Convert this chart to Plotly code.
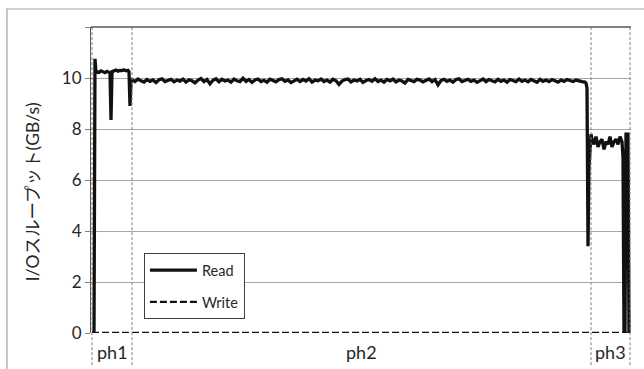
import plotly.graph_objects as go

# ---------------- data ----------------
# time axis in arbitrary sample units (one unit per sample step)
ph1_t = [0, 2, 3, 4, 5, 7, 9, 11, 13, 15, 17, 18, 19, 20, 22, 24, 26, 28, 30, 32, 34, 36, 37, 38, 39]
ph1_read = [0, 0, 10.75, 10.2, 10.25, 10.22, 10.28, 10.24, 10.21, 10.26, 10.23, 10.2, 8.35, 10.25,
            10.28, 10.31, 10.27, 10.30, 10.29, 10.32, 10.28, 10.30, 10.25, 8.9, 9.85]

ph2_t = list(range(40, 494, 3))
ph2_read = [
    9.93, 9.86, 9.96, 9.89, 9.84, 9.94, 9.87, 9.92, 9.82, 9.93, 9.97, 9.86, 9.90, 9.95, 9.85, 9.92,
    9.88, 9.96, 9.84, 9.93, 9.89, 9.81, 9.92, 9.98, 9.86, 9.94, 9.77, 9.91, 9.97, 9.85, 9.95, 9.88,
    9.92, 9.84, 9.96, 9.89, 9.86, 9.99, 9.87, 9.94, 9.83, 9.92, 9.96, 9.86, 9.91, 9.84, 9.95, 9.89,
    9.85, 9.94, 9.97, 9.87, 9.92, 9.82, 9.90, 9.95, 9.86, 9.94, 9.88, 9.97, 9.84, 9.92, 9.89, 9.96,
    9.86, 9.92, 9.84, 9.95, 9.89, 9.75, 9.88, 9.94, 9.96, 9.85, 9.92, 9.88, 9.95, 9.83, 9.90, 9.94,
    9.87, 9.97, 9.86, 9.92, 9.84, 9.94, 9.89, 9.96, 9.85, 9.92, 9.88, 9.80, 9.94, 9.89, 9.86, 9.95,
    9.92, 9.85, 9.90, 9.96, 9.86, 9.94, 9.73, 9.90, 9.95, 9.87, 9.92, 9.84, 9.94, 9.97, 9.86, 9.91,
    9.95, 9.87, 9.92, 9.83, 9.90, 9.96, 9.86, 9.94, 9.89, 9.85, 9.95, 9.87, 9.92, 9.84, 9.94, 9.89,
    9.86, 9.96, 9.87, 9.92, 9.85, 9.94, 9.89, 9.83, 9.95, 9.87, 9.92, 9.86, 9.94, 9.89, 9.84, 9.92,
    9.87, 9.94, 9.89, 9.86, 9.92, 9.88, 9.86, 9.84,
]

ph3_t = [494, 495, 496, 497, 499, 500, 502, 504, 506, 508, 510, 512, 514, 516, 518, 520, 522,
         524, 526, 528, 530, 531, 532, 533, 534, 536, 537, 538]
ph3_read = [9.8, 9.6, 3.4, 6.5, 7.8, 7.6, 7.4, 7.7, 7.3, 7.5, 7.6, 7.2, 7.5, 7.4, 7.7, 7.3, 7.5,
            7.6, 7.4, 7.7, 7.5, 6.9, 0, 0, 7.8, 7.8, 0, 0]

time_read = ph1_t + ph2_t + ph3_t
read_gbps = ph1_read + ph2_read + ph3_read

time_write = [0, 538]
write_gbps = [0, 0]

phase_bounds = [0, 40, 499, 538]
phase_labels = ["ph1", "ph2", "ph3"]

y_ticks = [0, 2, 4, 6, 8, 10, 12]
y_ticktext = ["0", "2", "4", "6", "8", "10", ""]

# ---------------- figure ----------------
FONT = "Lato, 'Noto Sans', 'Noto Sans CJK JP', sans-serif"
X_RANGE = [-1, 539]

fig = go.Figure()
fig.add_trace(go.Scatter(x=time_read, y=read_gbps, mode="lines", name="Read",
                         legendgroup="r",
                         line=dict(color="#111111", width=3.3)))
fig.add_trace(go.Scatter(x=time_write, y=write_gbps, mode="lines", name="Write",
                         legendgroup="w",
                         line=dict(color="#111111", width=2.4, dash="7px,3px")))

shapes = []
# phase separators (dashed grey), extending below the axis
for b in phase_bounds:
    shapes.append(dict(type="line", xref="x", yref="paper", x0=b, x1=b, y0=-0.105, y1=1,
                       line=dict(color="#7f7f7f", width=1, dash="3px,2px"), layer="above"))
# top border line of plot area
shapes.append(dict(type="line", xref="paper", yref="paper", x0=0, x1=1, y0=1, y1=1,
                   line=dict(color="#595959", width=1.3)))
# outer chart frame
shapes.append(dict(type="rect", xref="paper", yref="paper", x0=-0.1556, x1=1.1, y0=-0.14, y1=1.0588,
                   line=dict(color="#a0a0a0", width=1.2), fillcolor="rgba(0,0,0,0)", layer="below"))

annotations = []
for i, lab in enumerate(phase_labels):
    annotations.append(dict(x=(phase_bounds[i] + phase_bounds[i + 1]) / 2, y=-0.062,
                            xref="x", yref="paper", text=lab, showarrow=False,
                            font=dict(size=18, color="#262626", family=FONT),
                            xanchor="center", yanchor="middle"))
annotations.append(dict(x=-0.107, y=0.461, xref="paper", yref="paper",
                        text="I/Oスループット(GB/s)", textangle=-90, showarrow=False,
                        font=dict(size=17.5, color="#262626", family=FONT),
                        xanchor="center", yanchor="middle"))

fig.update_layout(
    width=644, height=369,
    margin=dict(l=91, r=13, t=27, b=36),
    paper_bgcolor="white", plot_bgcolor="white",
    font=dict(family=FONT, color="#262626"),
    showlegend=True,
    legend=dict(x=0.098, y=0.261, xanchor="left", yanchor="top",
                bgcolor="white", bordercolor="#404040", borderwidth=1,
                font=dict(size=14.5, color="#262626", family=FONT),
                tracegroupgap=10, traceorder="grouped", itemwidth=47),
    shapes=shapes,
    annotations=annotations,
)
fig.update_xaxes(range=X_RANGE, showticklabels=False, showgrid=False, zeroline=False,
                 showline=False, ticks="")
fig.update_yaxes(range=[0, 12], tickvals=y_ticks, ticktext=y_ticktext,
                 showgrid=True, gridcolor="#a6a6a6", gridwidth=1, zeroline=False,
                 showline=True, linecolor="#595959", linewidth=1.2,
                 ticks="outside", ticklen=5, tickcolor="#808080",
                 tickfont=dict(size=17, color="#262626", family=FONT))

fig.write_html("out.html", config={"displayModeBar": False},
               post_script="document.body.style.margin='0px';")
